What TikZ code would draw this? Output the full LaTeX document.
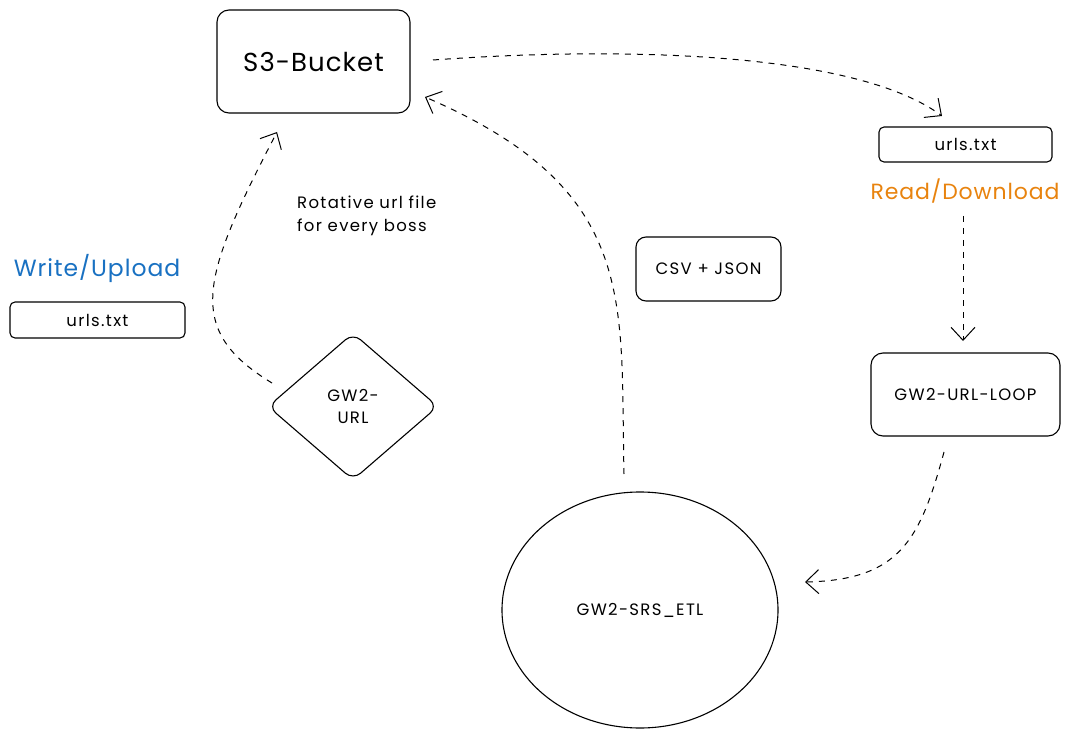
\documentclass[tikz,border=0pt]{standalone}
\usepackage{fontspec}
\setmainfont{Poppins}[LetterSpace=4]
\newfontfamily\smallfont{Poppins}[LetterSpace=8]
\usetikzlibrary{arrows.meta,shapes.geometric}
\definecolor{wblue}{HTML}{1971C2}
\definecolor{rorange}{HTML}{E8830E}
\tikzset{
  box/.style={draw, line width=1.1pt, rounded corners=12pt, inner sep=0pt},
  sfont/.style={font=\smallfont\fontsize{16.5}{21}\selectfont},
  smallbox/.style={draw, line width=1.1pt, rounded corners=5pt, inner sep=0pt, sfont},
  conn/.style={line width=1pt, dash pattern=on 6pt off 6pt, -{Straight Barb[length=13pt,width=24pt,line width=1pt]}},
}
\begin{document}
\begin{tikzpicture}[x=1pt,y=-1pt]
\useasboundingbox (0,0) rectangle (1071,738);
% nodes
\node[box, minimum width=193pt, minimum height=103pt, font=\fontsize{26}{30}\selectfont] (s3) at (313.5,61.5) {S3-Bucket};
\node[smallbox, minimum width=173pt, minimum height=35pt] (urlsR) at (965.5,144.5) {urls.txt};
\node[font=\fontsize{22}{26}\selectfont, text=rorange] (rd) at (965,191) {Read/Download};
\node[box, minimum width=189pt, minimum height=83pt, sfont] (loop) at (965.5,394.5) {GW2-URL-LOOP};
\node[draw, line width=1.1pt, ellipse, minimum width=276pt, minimum height=236pt, inner sep=0pt, sfont] (etl) at (640,610) {GW2-SRS\_ETL};
\node[box, rounded corners=10pt, minimum width=145pt, minimum height=64pt, sfont] (csv) at (708.5,269) {CSV + JSON};
\node[sfont, align=left, anchor=north west, inner sep=0pt, font=\smallfont\fontsize{16.5}{23}\selectfont] (rot) at (297,196) {Rotative url file\\for every boss};
\node[draw, line width=1.1pt, diamond, rounded corners=10pt, minimum width=170pt, minimum height=147pt, inner sep=0pt, align=center, font=\smallfont\fontsize{16.5}{22}\selectfont] (gw) at (353,406.5) {GW2-\\URL};
\node[font=\fontsize{23.5}{28}\selectfont, text=wblue] (wu) at (97,268) {Write/Upload};
\node[smallbox, minimum width=175pt, minimum height=36pt] (urlsL) at (97.5,320) {urls.txt};
% anchor coordinates
\coordinate (a1s) at (433,60);
\coordinate (a1e) at (942,116);
\coordinate (a2s) at (963,216);
\coordinate (a2e) at (963,341);
\coordinate (a3s) at (944,452);
\coordinate (a3e) at (805,582);
\coordinate (a4s) at (624,474);
\coordinate (a4e) at (425,97);
\coordinate (a5s) at (272,383);
\coordinate (a5e) at (277,132);
% connectors
\draw[conn] (a1s) .. controls (640,45) and (860,55) .. (a1e);
\draw[conn] (a2s) -- (a2e);
\draw[conn] (a3s) .. controls (920,540) and (900,580) .. (a3e);
\draw[conn] (a4s) .. controls (620,300) and (640,190) .. (a4e);
\draw[conn] (a5s) .. controls (185,330) and (200,280) .. (a5e);
\end{tikzpicture}
\end{document}
